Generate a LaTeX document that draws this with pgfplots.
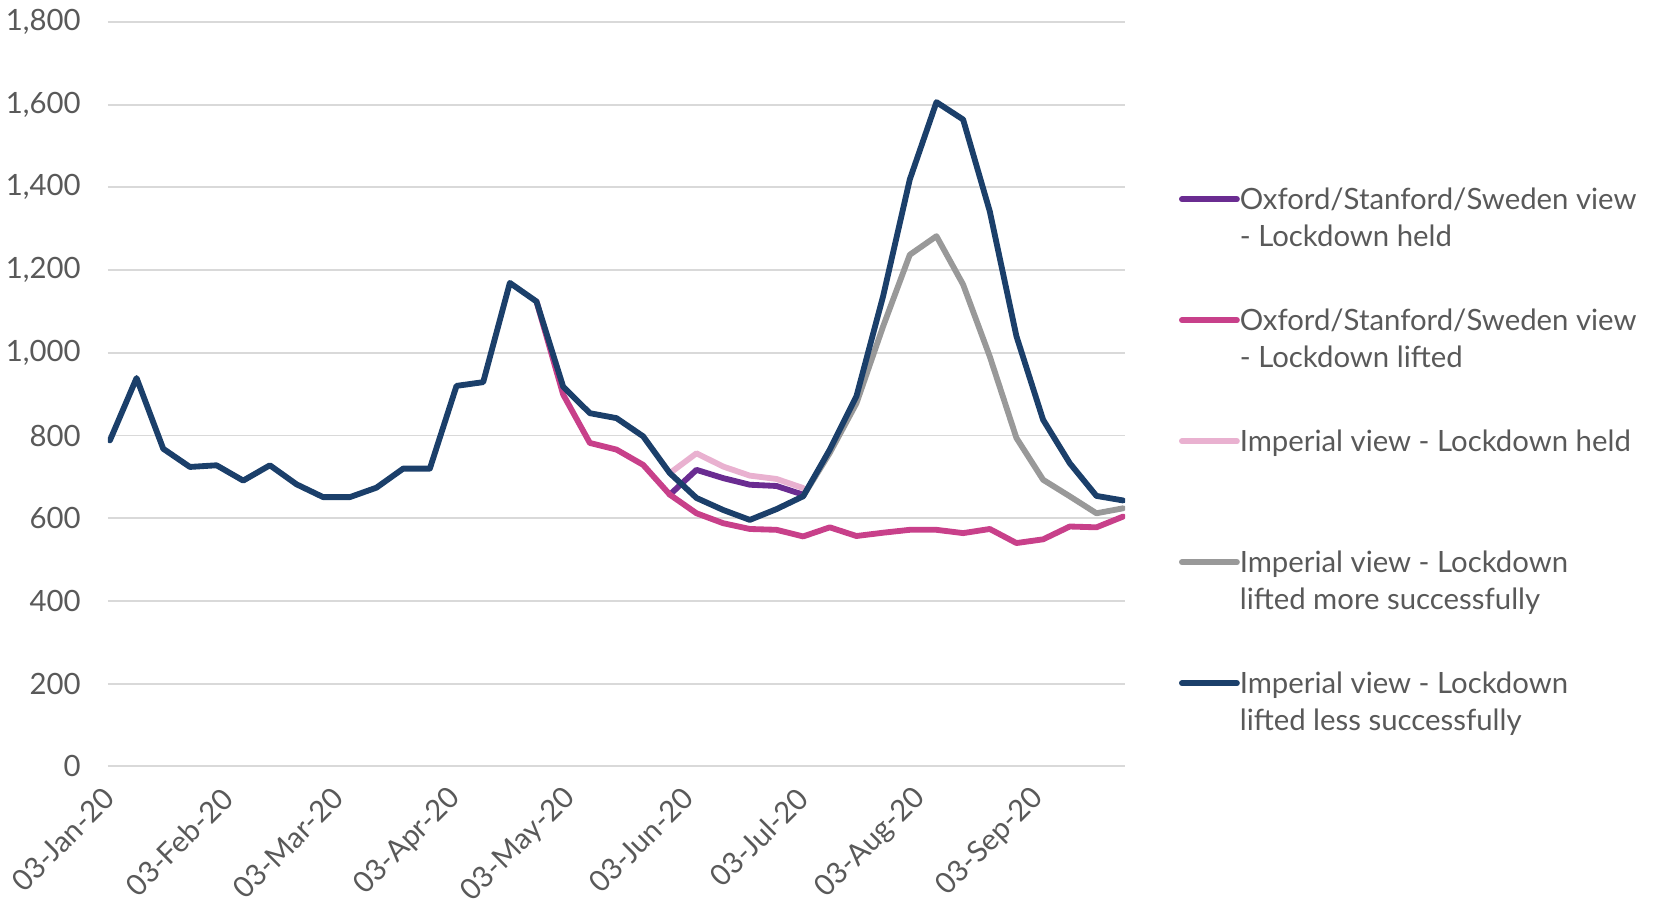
\documentclass[border=0pt]{standalone}
\usepackage{fontspec}
\setmainfont{Lato}
\usepackage{pgfplots}
\usepackage{pgfplotstable}
\pgfplotsset{compat=1.18}

\definecolor{textgray}{HTML}{595959}
\definecolor{gridgray}{HTML}{D9D9D9}
\definecolor{oxheld}{HTML}{6A2C91}
\definecolor{oxlifted}{HTML}{C8408A}
\definecolor{imheld}{HTML}{E9B1D0}
\definecolor{immore}{HTML}{999999}
\definecolor{imless}{HTML}{1B3F6A}

% weekly values, day 0 = 03-Jan-20
\pgfplotstableread{
day val
0 788
7 939
14 768
21 724
28 728
35 691
42 728
49 682
56 651
63 651
70 674
77 720
84 720
91 920
98 929
105 1169
112 1124
119 918
126 854
133 842
140 798
147 709
154 649
161 620
168 596
175 622
182 653
189 766
196 895
203 1137
210 1419
217 1606
224 1564
231 1342
238 1040
245 838
252 733
259 654
266 643
}\imlesstable

\pgfplotstableread{
day val
112 1124
119 899
126 782
133 766
140 729
147 657
154 612
161 588
168 574
175 572
182 556
189 578
196 557
203 565
210 572
217 572
224 564
231 574
238 540
245 549
252 580
259 578
266 604
}\oxliftedtable

\pgfplotstableread{
day val
147 657
154 717
161 697
168 681
175 678
182 657
}\oxheldtable

\pgfplotstableread{
day val
147 709
154 757
161 725
168 703
175 695
182 673
}\imheldtable

\pgfplotstableread{
day val
182 653
189 758
196 878
203 1064
210 1237
217 1282
224 1165
231 991
238 794
245 693
252 653
259 612
266 624
}\immoretable

\begin{document}
\begin{tikzpicture}
\useasboundingbox (-32.4pt,-40.68pt) rectangle (463.5pt,229.92pt);
\begin{axis}[
  at={(0pt,0pt)}, anchor=south west,
  scale only axis,
  width=305.1pt, height=223.35pt,
  xmin=-0.5, xmax=266.5,
  ymin=0, ymax=1800,
  axis line style={draw=none},
  major tick length=0pt,
  ytick={0,200,...,1800},
  ymajorgrids,
  grid style={color=gridgray, line width=0.55pt},
  xtick={0,31,60,91,121,152,182,213,244},
  xticklabels={03-Jan-20,03-Feb-20,03-Mar-20,03-Apr-20,03-May-20,03-Jun-20,03-Jul-20,03-Aug-20,03-Sep-20},
  /pgf/number format/assume math mode=true,
  /pgf/number format/1000 sep={,},
  tick label style={font=\fontsize{8.8}{11}\selectfont, text=textgray},
  yticklabel style={anchor=east, inner sep=0pt, xshift=-8pt},
  xticklabel style={yshift=-8pt, rotate=45, anchor=east, inner sep=0pt},
  legend cell align=left,
  legend style={
    at={(1.0531,0.791)}, anchor=north west,
    draw=none, fill=none, inner sep=0pt, outer sep=0pt,
    font=\fontsize{8.8}{11}\selectfont, text=textgray,
    row sep=23.1pt, column sep=-2pt,
    cells={anchor=base west, inner sep=0pt},
  },
  legend image code/.code={\draw[line width=1.75pt] (0pt,3.2pt) -- (16.5pt,3.2pt);},
  every axis plot/.append style={line width=1.75pt, line join=round, line cap=round},
]
\addplot[color=oxheld] table[x=day, y=val] {\oxheldtable};
\addlegendentry{\begin{tabular}[t]{@{}l@{}}Oxford/Stanford/Sweden view\\- Lockdown held\end{tabular}}
\addplot[color=oxlifted] table[x=day, y=val] {\oxliftedtable};
\addlegendentry{\begin{tabular}[t]{@{}l@{}}Oxford/Stanford/Sweden view\\- Lockdown lifted\end{tabular}}
\addplot[color=imheld] table[x=day, y=val] {\imheldtable};
\addlegendentry{\begin{tabular}[t]{@{}l@{}}Imperial view - Lockdown held\\ \end{tabular}}
\addplot[color=immore] table[x=day, y=val] {\immoretable};
\addlegendentry{\begin{tabular}[t]{@{}l@{}}Imperial view - Lockdown\\lifted more successfully\end{tabular}}
\addplot[color=imless] table[x=day, y=val] {\imlesstable};
\addlegendentry{\begin{tabular}[t]{@{}l@{}}Imperial view - Lockdown\\lifted less successfully\end{tabular}}
\end{axis}
\end{tikzpicture}
\end{document}
